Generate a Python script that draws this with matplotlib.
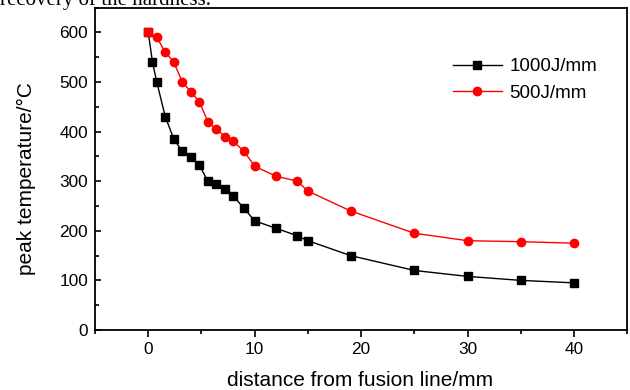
import numpy as np
import matplotlib
matplotlib.use("Agg")
import matplotlib.pyplot as plt
from matplotlib.ticker import MultipleLocator

# peak temperature vs distance from fusion line
x_1000 = [0, 0.4, 0.8, 1.6, 2.4, 3.2, 4.0, 4.8, 5.6, 6.4, 7.2, 8.0, 9, 10, 12, 14, 15, 19, 25, 30, 35, 40]
t_1000 = [600, 540, 500, 430, 385, 360, 348, 332, 300, 295, 285, 270, 245, 220, 205, 190, 180, 150, 120, 108, 100, 95]

x_500 = [0, 0.8, 1.6, 2.4, 3.2, 4.0, 4.8, 5.6, 6.4, 7.2, 8.0, 9, 10, 12, 14, 15, 19, 25, 30, 35, 40]
t_500 = [600, 590, 560, 540, 500, 480, 460, 420, 405, 390, 380, 360, 330, 310, 300, 280, 240, 195, 180, 178, 175]

plt.rcParams["font.family"] = ["Liberation Sans", "DejaVu Sans"]

fig = plt.figure(figsize=(6.3, 3.9), dpi=100)
ax = fig.add_axes([95 / 630, 60 / 390, 532.3 / 630, 322.5 / 390])

ax.plot(x_1000, t_1000, color="black", lw=1, marker="s", ms=5.3, label="1000J/mm")
ax.plot(x_500, t_500, color="red", lw=1, marker="o", ms=6, markevery=slice(1, None), label="500J/mm")
# first point of the red series shows as a square in the original
ax.plot(x_500[:1], t_500[:1], color="red", ls="none", marker="s", ms=5.3)

ax.set_xlim(-5, 45)
ax.set_ylim(0, 650)
ax.xaxis.set_major_locator(MultipleLocator(10))
ax.xaxis.set_minor_locator(MultipleLocator(5))
ax.yaxis.set_major_locator(MultipleLocator(100))
ax.yaxis.set_minor_locator(MultipleLocator(50))
ax.tick_params(axis="x", which="major", direction="out", length=5, width=1.2, labelsize=12.4, pad=4)
ax.tick_params(axis="x", which="minor", direction="out", length=3, width=1.2)
ax.tick_params(axis="y", which="major", direction="in", length=4, width=1.2, labelsize=12.4, pad=5)
ax.tick_params(axis="y", which="minor", direction="in", length=3, width=1.2)
ax.tick_params(top=False, right=False)
for sp in ax.spines.values():
    sp.set_linewidth(1.3)

ax.set_xlabel("distance from fusion line/mm", fontsize=15)
ax.set_ylabel("peak temperature/°C", fontsize=15)
ax.xaxis.set_label_coords(0.498, -0.128)
ax.yaxis.set_label_coords(-0.11, 0.47)

ax.legend(loc="upper right", bbox_to_anchor=(0.975, 0.895), frameon=False, fontsize=13.5,
          handlelength=2.6, labelspacing=0.5, handletextpad=0.4)

# cut-off caption from the page above the figure
fig.text(0.0, 1.0 - 5 / 390, "recovery of the hardness.", family="Liberation Serif",
         fontsize=15, va="baseline", ha="left")

fig.savefig("out.png", dpi=100)
